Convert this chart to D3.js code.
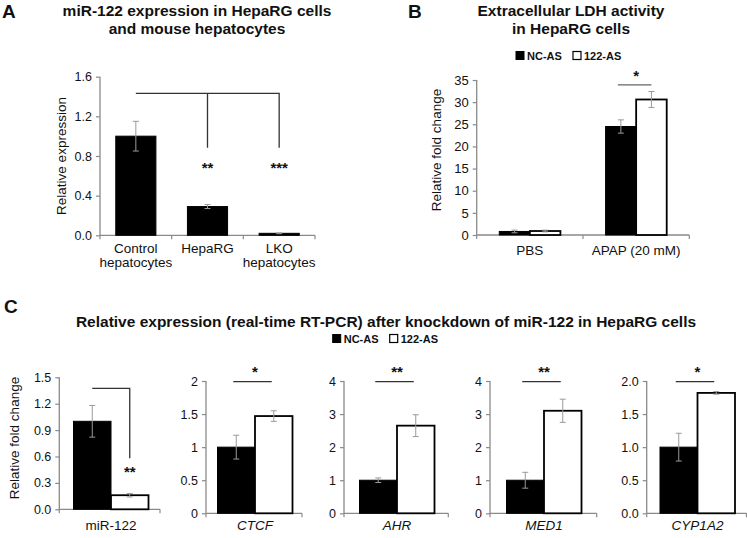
<!DOCTYPE html>
<html>
<head>
<meta charset="utf-8">
<script src="https://cdn.jsdelivr.net/npm/d3@7"></script>
<style>
  html, body { margin: 0; padding: 0; background: #fff; }
  svg { display: block; font-family: "Liberation Sans", Arial, sans-serif; }
</style>
</head>
<body>
<script>
// ---------------- DATA ----------------
// Panel A
const aCategories = ["Control hepatocytes", "HepaRG", "LKO hepatocytes"];
const aLabelLines = [["Control", "hepatocytes"], ["HepaRG"], ["LKO", "hepatocytes"]];
const aValues = [1.0, 0.29, 0.02];
const aErrors = [0.15, 0.02, 0.004];
const aTicks = [0, 0.4, 0.8, 1.2, 1.6];
const aStars = ["", "**", "***"];

// Panel B
const bCategories = ["PBS", "APAP (20 mM)"];
const series = ["NC-AS", "122-AS"];
const bNC = [0.8, 24.5];
const bAS = [0.9, 30.6];
const bNCerr = [0.3, 1.5];
const bASerr = [0.2, 1.8];
const bTicks = [0, 5, 10, 15, 20, 25, 30, 35];

// Panel C
const cGenes = ["miR-122", "CTCF", "AHR", "MED1", "CYP1A2"];
const cItalic = [false, true, true, true, true];
const cNC = [1.0, 1.0, 1.0, 1.0, 1.0];
const cAS = [0.16, 1.47, 2.65, 3.1, 1.82];
const cNCerr = [0.18, 0.18, 0.07, 0.24, 0.21];
const cASerr = [0.02, 0.08, 0.33, 0.35, 0.02];
const cTicks = [
  [0, 0.3, 0.6, 0.9, 1.2, 1.5],
  [0, 0.5, 1, 1.5, 2],
  [0, 1, 2, 3, 4],
  [0, 1, 2, 3, 4],
  [0, 0.5, 1.0, 1.5, 2.0]
];
const cTickFormats = [".1f", "~g", "d", "d", ".1f"];
const cStars = ["**", "*", "**", "**", "*"];

// ---------------- LAYOUT ----------------
const W = 747, H = 538;
const FONT = '"Liberation Sans", Arial, sans-serif';
const AXIS_COLOR = "#8a8a8a";
const ERR_COLOR = "#9a9a9a";
const SIG_COLOR = "#333";

const svg = d3.select("body").append("svg").attr("width", W).attr("height", H);

function styleAxis(g) {
  g.select(".domain").attr("stroke", AXIS_COLOR).attr("stroke-width", 1.3);
  g.selectAll(".tick line").attr("stroke", AXIS_COLOR).attr("stroke-width", 1.2);
  g.selectAll(".tick text").attr("fill", "#111").attr("font-family", FONT);
}

function errorBar(g, cx, yScale, v, e, capW) {
  const y1 = yScale(v + e), y2 = yScale(Math.max(0, v - e));
  g.append("line").attr("x1", cx).attr("x2", cx).attr("y1", y1).attr("y2", y2)
    .attr("stroke", ERR_COLOR).attr("stroke-width", 1);
  [y1, y2].forEach(y => g.append("line").attr("x1", cx - capW / 2).attr("x2", cx + capW / 2)
    .attr("y1", y).attr("y2", y).attr("stroke", ERR_COLOR).attr("stroke-width", 1));
}

function panelLetter(x, y, t) {
  svg.append("text").attr("x", x).attr("y", y).text(t)
    .attr("font-size", 19).attr("font-weight", "bold").attr("fill", "#111");
}

function legend(x, y) {
  const g = svg.append("g").attr("transform", `translate(${x},${y})`);
  g.append("rect").attr("x", 0).attr("y", -8).attr("width", 8).attr("height", 8)
    .attr("fill", "#000").attr("stroke", "#000");
  g.append("text").attr("x", 11).attr("y", 0).text(series[0])
    .attr("font-size", 11).attr("font-weight", "bold").attr("fill", "#111");
  g.append("rect").attr("x", 57).attr("y", -8).attr("width", 8).attr("height", 8)
    .attr("fill", "#fff").attr("stroke", "#000").attr("stroke-width", 1.2);
  g.append("text").attr("x", 68).attr("y", 0).text(series[1])
    .attr("font-size", 11).attr("font-weight", "bold").attr("fill", "#111");
}

// ---------------- PANEL A ----------------
(function () {
  panelLetter(2, 18, "A");
  const title = svg.append("text").attr("text-anchor", "middle")
    .attr("font-size", 15.5).attr("font-weight", "bold").attr("fill", "#111");
  title.append("tspan").attr("x", 197).attr("y", 16).text("miR-122 expression in HepaRG cells");
  title.append("tspan").attr("x", 197).attr("y", 33.5).text("and mouse hepatocytes");

  const y = d3.scaleLinear().domain([0, 1.6]).range([235.3, 76.7]);
  const x = d3.scaleBand().domain(aCategories).range([100, 315]).paddingInner(0.44).paddingOuter(0.22);

  const ga = svg.append("g").attr("transform", "translate(100,0)")
    .call(d3.axisLeft(y).tickValues(aTicks).tickFormat(d3.format(".1f")).tickSize(4).tickSizeOuter(0).tickPadding(4))
    .attr("font-size", 12.5);
  styleAxis(ga);
  ga.select(".domain").attr("d", `M0,${y(1.6)}V${y(0)}`);

  // x axis
  const [r0, r1] = x.range();
  svg.append("line").attr("x1", r0).attr("x2", r1).attr("y1", y(0)).attr("y2", y(0))
    .attr("stroke", AXIS_COLOR).attr("stroke-width", 1.3);
  d3.range(aCategories.length + 1).forEach(i => {
    const xx = r0 + i * x.step();
    svg.append("line").attr("x1", xx).attr("x2", xx).attr("y1", y(0)).attr("y2", y(0) + 4)
      .attr("stroke", AXIS_COLOR).attr("stroke-width", 1.2);
  });

  const bars = svg.append("g");
  aCategories.forEach((c, i) => {
    bars.append("rect").attr("x", x(c)).attr("width", x.bandwidth())
      .attr("y", y(aValues[i])).attr("height", y(0) - y(aValues[i]))
      .attr("fill", "#000").attr("stroke", "#000").attr("stroke-width", 1);
    errorBar(bars, x(c) + x.bandwidth() / 2, y, aValues[i], aErrors[i], 6);
    const t = svg.append("text").attr("text-anchor", "middle").attr("font-size", 13.5).attr("fill", "#111");
    aLabelLines[i].forEach((ln, j) => t.append("tspan").attr("x", x(c) + x.bandwidth() / 2).attr("y", 253 + j * 13.5).text(ln));
    if (aStars[i]) {
      svg.append("text").attr("x", x(c) + x.bandwidth() / 2).attr("y", 173).attr("text-anchor", "middle")
        .attr("font-size", 15).attr("font-weight", "bold").attr("fill", "#111").text(aStars[i]);
    }
  });

  // bracket
  const cx = c => x(c) + x.bandwidth() / 2;
  const yTop = y(1.432), yDrop = y(0.883);
  svg.append("path")
    .attr("d", `M${cx(aCategories[0])},${yTop}H${cx(aCategories[2])}V${yDrop}M${cx(aCategories[1])},${yTop}V${yDrop}`)
    .attr("fill", "none").attr("stroke", SIG_COLOR).attr("stroke-width", 1.3);

  svg.append("text").attr("transform", `translate(65.5,156) rotate(-90)`).attr("text-anchor", "middle")
    .attr("font-size", 13.5).attr("fill", "#111").text("Relative expression");
})();

// ---------------- PANEL B ----------------
(function () {
  panelLetter(408, 18, "B");
  const title = svg.append("text").attr("text-anchor", "middle")
    .attr("font-size", 15.5).attr("font-weight", "bold").attr("fill", "#111");
  title.append("tspan").attr("x", 571).attr("y", 16).text("Extracellular LDH activity");
  title.append("tspan").attr("x", 571).attr("y", 33.5).text("in HepaRG cells");
  legend(516, 59.5);

  const y = d3.scaleLinear().domain([0, 35]).range([235, 80]);
  const x0 = d3.scaleBand().domain(bCategories).range([476.7, 689.3]).paddingInner(0.425).paddingOuter(0.2125);
  const x1 = d3.scaleBand().domain(series).range([0, x0.bandwidth()]);

  const ga = svg.append("g").attr("transform", "translate(476.7,0)")
    .call(d3.axisLeft(y).tickValues(bTicks).tickFormat(d3.format("d")).tickSize(4).tickSizeOuter(0).tickPadding(4))
    .attr("font-size", 13);
  styleAxis(ga);
  ga.select(".domain").attr("d", `M0,${y(35)}V${y(0)}`);

  const [r0, r1] = x0.range();
  svg.append("line").attr("x1", r0).attr("x2", r1).attr("y1", y(0)).attr("y2", y(0))
    .attr("stroke", AXIS_COLOR).attr("stroke-width", 1.3);
  d3.range(bCategories.length + 1).forEach(i => {
    const xx = r0 + i * x0.step();
    svg.append("line").attr("x1", xx).attr("x2", xx).attr("y1", y(0)).attr("y2", y(0) + 4)
      .attr("stroke", AXIS_COLOR).attr("stroke-width", 1.2);
  });

  const vals = [bNC, bAS], errs = [bNCerr, bASerr];
  const bars = svg.append("g");
  bCategories.forEach((c, i) => {
    series.forEach((s, k) => {
      const bx = x0(c) + x1(s);
      const v = vals[k][i];
      bars.append("rect").attr("x", bx).attr("width", x1.bandwidth())
        .attr("y", y(v)).attr("height", y(0) - y(v))
        .attr("fill", k === 0 ? "#000" : "#fff").attr("stroke", "#000").attr("stroke-width", k === 0 ? 1 : 1.8);
    });
    series.forEach((s, k) => {
      errorBar(bars, x0(c) + x1(s) + x1.bandwidth() / 2, y, vals[k][i], errs[k][i], 6);
    });
    svg.append("text").attr("x", x0(c) + x0.bandwidth() / 2).attr("y", 255).attr("text-anchor", "middle")
      .attr("font-size", 13.5).attr("fill", "#111").text(c);
  });

  // significance for APAP
  const c = bCategories[1];
  const xa = x0(c) + x1(series[0]) + x1.bandwidth() / 2;
  const xb = x0(c) + x1(series[1]) + x1.bandwidth() / 2;
  svg.append("line").attr("x1", xa - 3).attr("x2", xb).attr("y1", y(33.9)).attr("y2", y(33.9))
    .attr("stroke", "#666").attr("stroke-width", 1.3);
  svg.append("text").attr("x", (xa + xb) / 2).attr("y", 81).attr("text-anchor", "middle")
    .attr("font-size", 15).attr("font-weight", "bold").attr("fill", "#111").text("*");

  svg.append("text").attr("transform", `translate(441,150) rotate(-90)`).attr("text-anchor", "middle")
    .attr("font-size", 13.5).attr("fill", "#111").text("Relative fold change");
})();

// ---------------- PANEL C ----------------
(function () {
  panelLetter(4, 313, "C");
  svg.append("text").attr("x", 386).attr("y", 326.5).attr("text-anchor", "middle")
    .attr("font-size", 15.5).attr("font-weight", "bold").attr("fill", "#111")
    .text("Relative expression (real-time RT-PCR) after knockdown of miR-122 in HepaRG cells");
  legend(332.7, 342.5);

  const lay = [
    { ax: 59.3, ex: 160, cx: 111, y0: 509.3, y1: 377.3 },
    { ax: 206, ex: 302, cx: 255, y0: 513.3, y1: 381 },
    { ax: 344, ex: 448.3, cx: 397, y0: 513.3, y1: 381 },
    { ax: 490, ex: 596.7, cx: 544, y0: 513.3, y1: 381 },
    { ax: 646.7, ex: 746.5, cx: 697.5, y0: 513.3, y1: 381 }
  ];
  const halfW = 37.5;

  cGenes.forEach((gene, i) => {
    const L = lay[i];
    const ticks = cTicks[i];
    const ymax = ticks[ticks.length - 1];
    const y = d3.scaleLinear().domain([0, ymax]).range([L.y0, L.y1]);
    const x0 = d3.scaleBand().domain([gene]).range([L.cx - halfW, L.cx + halfW]);
    const x1 = d3.scaleBand().domain(series).range([0, x0.bandwidth()]);

    const ga = svg.append("g").attr("transform", `translate(${L.ax},0)`)
      .call(d3.axisLeft(y).tickValues(ticks).tickFormat(d3.format(cTickFormats[i])).tickSize(4).tickSizeOuter(0).tickPadding(4))
      .attr("font-size", 12.5);
    styleAxis(ga);
    ga.select(".domain").attr("d", `M0,${y(ymax)}V${y(0)}`);

    svg.append("line").attr("x1", L.ax).attr("x2", L.ex).attr("y1", y(0)).attr("y2", y(0))
      .attr("stroke", AXIS_COLOR).attr("stroke-width", 1.3);
    [L.ax, L.ex].forEach(xx => svg.append("line").attr("x1", xx).attr("x2", xx)
      .attr("y1", y(0)).attr("y2", y(0) + 4).attr("stroke", AXIS_COLOR).attr("stroke-width", 1.2));

    const vals = [cNC[i], cAS[i]], errs = [cNCerr[i], cASerr[i]];
    const bars = svg.append("g");
    series.forEach((s, k) => {
      bars.append("rect").attr("x", x0(gene) + x1(s)).attr("width", x1.bandwidth())
        .attr("y", y(vals[k])).attr("height", y(0) - y(vals[k]))
        .attr("fill", k === 0 ? "#000" : "#fff").attr("stroke", "#000").attr("stroke-width", k === 0 ? 1 : 1.8);
    });
    series.forEach((s, k) => {
      errorBar(bars, x0(gene) + x1(s) + x1.bandwidth() / 2, y, vals[k], errs[k], 6);
    });

    const xa = x0(gene) + x1(series[0]) + x1.bandwidth() / 2;
    const xb = x0(gene) + x1(series[1]) + x1.bandwidth() / 2;
    if (i === 0) {
      svg.append("path")
        .attr("d", `M${xa},${y(1.375)}H${xb}V${y(0.58)}`)
        .attr("fill", "none").attr("stroke", SIG_COLOR).attr("stroke-width", 1.3);
      svg.append("text").attr("x", xb).attr("y", 477).attr("text-anchor", "middle")
        .attr("font-size", 15).attr("font-weight", "bold").attr("fill", "#111").text(cStars[i]);
    } else {
      svg.append("line").attr("x1", xa - 3).attr("x2", xb - 2).attr("y1", y(ymax) + 0.7).attr("y2", y(ymax) + 0.7)
        .attr("stroke", SIG_COLOR).attr("stroke-width", 1.3);
      svg.append("text").attr("x", (xa + xb) / 2).attr("y", 377).attr("text-anchor", "middle")
        .attr("font-size", 15).attr("font-weight", "bold").attr("fill", "#111").text(cStars[i]);
    }

    svg.append("text").attr("x", L.cx).attr("y", 530).attr("text-anchor", "middle")
      .attr("font-size", 13.5).attr("font-style", cItalic[i] ? "italic" : "normal").attr("fill", "#111").text(gene);
  });

  svg.append("text").attr("transform", `translate(18.5,438) rotate(-90)`).attr("text-anchor", "middle")
    .attr("font-size", 13.5).attr("fill", "#111").text("Relative fold change");
})();
</script>
</body>
</html>
